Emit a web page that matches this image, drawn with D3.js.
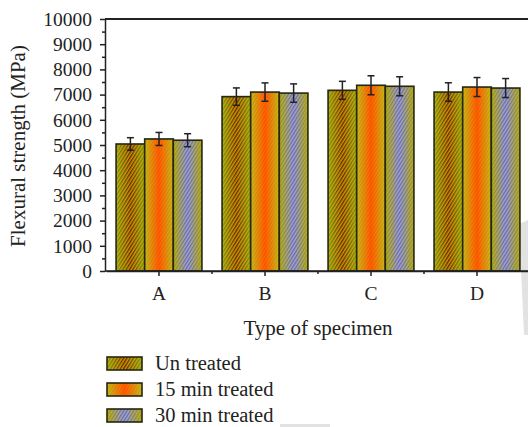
<!DOCTYPE html>
<html><head><meta charset="utf-8">
<script src="https://cdn.jsdelivr.net/npm/d3@7"></script>
<style>html,body{margin:0;padding:0;background:#fff;}svg{display:block;}</style>
</head><body>
<script>
const categories = ["A", "B", "C", "D"];
const seriesNames = ["Un treated", "15 min treated", "30 min treated"];
const untreated = [5040, 6920, 7170, 7100];
const treated15 = [5240, 7100, 7370, 7300];
const treated30 = [5190, 7060, 7330, 7260];
const errUntreated = [250, 345, 357, 369];
const err15 = [258, 365, 377, 377];
const err30 = [258, 365, 377, 377];
const yTicks = [0, 1000, 2000, 3000, 4000, 5000, 6000, 7000, 8000, 9000, 10000];
const yMinorTicks = [500, 1500, 2500, 3500, 4500, 5500, 6500, 7500, 8500, 9500];

const values = [untreated, treated15, treated30];
const errors = [errUntreated, err15, err30];
// colour styles: [base edge, base centre, stripe edge, stripe centre]
const styles = [
  ["#d8a800", "#e08800", "#62a820", "#4a2c00"],
  ["#e0b410", "#ff6400", "#a0b820", "#ff4a00"],
  ["#d0a800", "#92b2cc", "#88a420", "#7656cc"]
];

const W = 528, H = 427;
const svg = d3.select("body").append("svg").attr("width", W).attr("height", H);
const font = "'Liberation Serif', 'Times New Roman', serif";
const ink = "#222";

const defs = svg.append("defs");
const pat = defs.append("pattern").attr("id", "hatch")
  .attr("width", 2.8).attr("height", 2.8)
  .attr("patternUnits", "userSpaceOnUse")
  .attr("patternTransform", "rotate(32)");
pat.append("rect").attr("x", 0).attr("y", 0).attr("width", 1.3).attr("height", 2.8).attr("fill", "#fff");
const mask = defs.append("mask").attr("id", "hatchMask")
  .attr("maskUnits", "userSpaceOnUse").attr("maskContentUnits", "userSpaceOnUse")
  .attr("x", 0).attr("y", 0).attr("width", W).attr("height", H);
mask.append("rect").attr("width", W).attr("height", H).attr("fill", "url(#hatch)");

styles.forEach((s, i) => {
  const g1 = defs.append("linearGradient").attr("id", "base" + i).attr("x1", 0).attr("x2", 1).attr("y1", 0).attr("y2", 0);
  g1.append("stop").attr("offset", 0).attr("stop-color", s[0]);
  g1.append("stop").attr("offset", 0.5).attr("stop-color", s[1]);
  g1.append("stop").attr("offset", 1).attr("stop-color", s[0]);
  const g2 = defs.append("linearGradient").attr("id", "stripe" + i).attr("x1", 0).attr("x2", 1).attr("y1", 0).attr("y2", 0);
  g2.append("stop").attr("offset", 0).attr("stop-color", s[2]);
  g2.append("stop").attr("offset", 0.5).attr("stop-color", s[3]);
  g2.append("stop").attr("offset", 1).attr("stop-color", s[2]);
});

// watermark fragments (light grey)
svg.append("polygon").attr("points", "519,224 528,220 528,335 524,335").attr("fill", "#e2e2e2");
svg.append("rect").attr("x", 280).attr("y", 424).attr("width", 50).attr("height", 3).attr("fill", "#e2e2e2");

const x0 = d3.scaleBand().domain(categories).range([106, 530]).paddingInner(0.19).paddingOuter(0.095);
const x1 = d3.scaleBand().domain(d3.range(seriesNames.length)).range([0, x0.bandwidth()]);
const y = d3.scaleLinear().domain([0, 10000]).range([271, 19]);

function drawFilled(sel, i) {
  sel.append("rect").attr("x", d => d.x).attr("y", d => d.y).attr("width", d => d.w).attr("height", d => d.h)
    .attr("fill", `url(#base${i})`);
  sel.append("rect").attr("x", d => d.x).attr("y", d => d.y).attr("width", d => d.w).attr("height", d => d.h)
    .attr("fill", `url(#stripe${i})`).attr("mask", "url(#hatchMask)");
  sel.append("rect").attr("x", d => d.x).attr("y", d => d.y).attr("width", d => d.w).attr("height", d => d.h)
    .attr("fill", "none").attr("stroke", "#262612").attr("stroke-width", 1.6);
}

// bars
seriesNames.forEach((name, i) => {
  const data = categories.map((c, k) => ({
    x: x0(c) + x1(i), y: y(values[i][k]), w: x1.bandwidth(), h: y(0) - y(values[i][k])
  }));
  const g = svg.append("g").selectAll("g").data(data).join("g");
  drawFilled(g, i);
});

// error bars
seriesNames.forEach((name, i) => {
  const data = categories.map((c, k) => ({ cx: x0(c) + x1(i) + x1.bandwidth() / 2, v: values[i][k], e: errors[i][k] }));
  const g = svg.append("g").attr("stroke", ink).attr("stroke-width", 1.5);
  g.selectAll(".v").data(data).join("line").attr("x1", d => d.cx).attr("x2", d => d.cx)
    .attr("y1", d => y(d.v + d.e)).attr("y2", d => y(d.v - d.e));
  g.selectAll(".t").data(data).join("line").attr("x1", d => d.cx - 3.5).attr("x2", d => d.cx + 3.5)
    .attr("y1", d => y(d.v + d.e)).attr("y2", d => y(d.v + d.e));
  g.selectAll(".b").data(data).join("line").attr("x1", d => d.cx - 3.5).attr("x2", d => d.cx + 3.5)
    .attr("y1", d => y(d.v - d.e)).attr("y2", d => y(d.v - d.e));
});

// y axis
svg.append("g").attr("transform", "translate(105,0)")
  .call(d3.axisLeft(y).tickValues(yTicks).tickFormat(d3.format("d")).tickSize(5).tickSizeOuter(0).tickPadding(8));
svg.append("g").attr("transform", "translate(105,0)")
  .call(d3.axisLeft(y).tickValues(yMinorTicks).tickFormat("").tickSize(3).tickSizeOuter(0))
  .call(g => g.select(".domain").remove());
// x axis
svg.append("g").attr("transform", "translate(0,271)")
  .call(d3.axisBottom(x0).tickSize(5).tickSizeOuter(0).tickPadding(10));
const minorX = categories.slice(1).map(c => x0(c) - x0.step() * x0.paddingInner() / 2);
svg.append("g").selectAll("line").data(minorX).join("line")
  .attr("x1", d => d).attr("x2", d => d).attr("y1", 271).attr("y2", 274).attr("stroke", ink).attr("stroke-width", 1.5);
// frame lines
svg.append("line").attr("x1", 105).attr("x2", W).attr("y1", 19).attr("y2", 19).attr("stroke", ink).attr("stroke-width", 1.8);
svg.append("line").attr("x1", 105).attr("x2", W).attr("y1", 271).attr("y2", 271).attr("stroke", ink).attr("stroke-width", 1.5);

svg.selectAll(".domain, .tick line").attr("stroke", ink).attr("stroke-width", 1.5);
svg.selectAll(".tick text").attr("fill", ink).style("font-family", font).style("font-size", "19.5px");

// axis titles
svg.append("text").attr("x", 318).attr("y", 335).attr("text-anchor", "middle")
  .style("font-family", font).style("font-size", "21px").attr("fill", ink).text("Type of specimen");
svg.append("text").attr("transform", "translate(25,146) rotate(-90)").attr("text-anchor", "middle")
  .style("font-family", font).style("font-size", "21px").attr("fill", ink).text("Flexural strength (MPa)");

// legend
const legY = [363.5, 389.5, 415.5];
seriesNames.forEach((name, i) => {
  const g = svg.append("g").selectAll("g").data([{ x: 107, y: legY[i] - 6.5, w: 35, h: 13 }]).join("g");
  drawFilled(g, i);
  svg.append("text").attr("x", 155).attr("y", legY[i] + 6.5)
    .style("font-family", font).style("font-size", "20.5px").attr("fill", ink).text(name);
});
</script>
</body></html>
